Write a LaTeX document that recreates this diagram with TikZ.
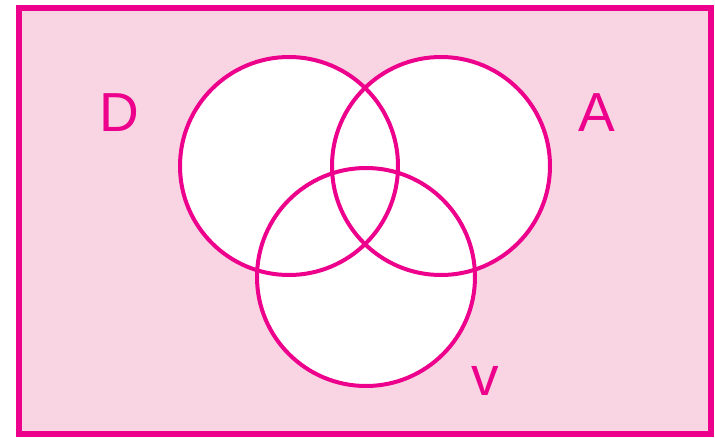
\documentclass[tikz,border=0pt]{standalone}
\usepackage{fontspec}
\setmainfont{Liberation Sans}
\definecolor{mag}{RGB}{236,0,140}
\definecolor{bgpink}{RGB}{249,213,227}
\begin{document}
\begin{tikzpicture}[x=1pt,y=-1pt,
  setcircle/.style={circle,inner sep=0pt,minimum size=218pt},
  setlabel/.style={text=mag,font=\fontsize{55}{55}\selectfont,inner sep=0pt}]
\useasboundingbox (0,0) rectangle (715,437);
\fill[white] (0,0) rectangle (715,437);
\draw[mag,line width=5.5pt,fill=bgpink] (19,8) rectangle (711,434);
% white fills
\node[setcircle,fill=white] (Df) at (289,166) {};
\node[setcircle,fill=white] (Af) at (441,166) {};
\node[setcircle,fill=white] (Vf) at (366,277) {};
% outlines
\node[setcircle,draw=mag,line width=4pt] (D) at (289,166) {};
\node[setcircle,draw=mag,line width=4pt] (A) at (441,166) {};
\node[setcircle,draw=mag,line width=4pt] (V) at (366,277) {};
% labels
\node[setlabel] (Dl) at (119,113) {D};
\node[setlabel] (Al) at (597,113) {A};
\node[setlabel,anchor=base] (Vl) at (485,395) {v};
\end{tikzpicture}
\end{document}
